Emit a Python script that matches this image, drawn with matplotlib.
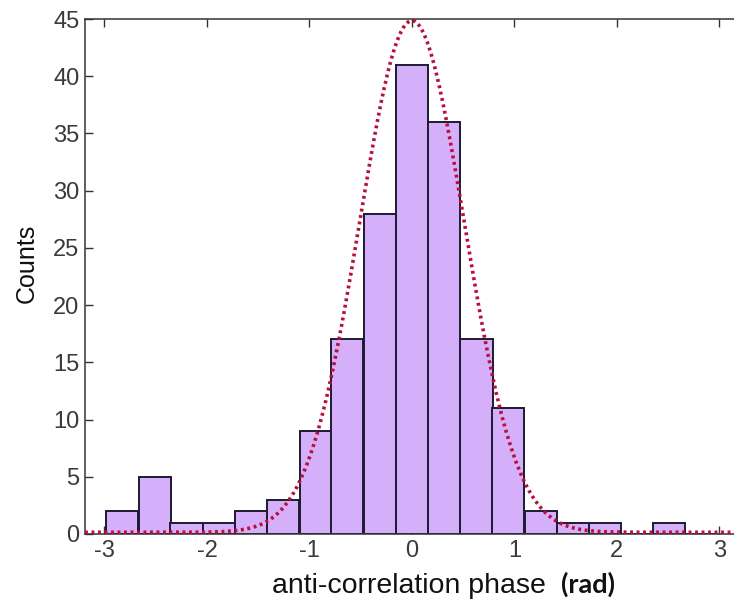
import numpy as np
import matplotlib
matplotlib.use('Agg')
import matplotlib.pyplot as plt

# histogram of anti-correlation phase (bins of pi/10)
bin_centers = [-2.83, -2.51, -2.20, -1.88, -1.57, -1.26, -0.94, -0.63, -0.31, 0.0,
               0.31, 0.63, 0.94, 1.26, 1.57, 1.88, 2.20, 2.51, 2.83]
counts = [2, 5, 1, 1, 2, 3, 9, 17, 28, 41, 36, 17, 11, 2, 1, 1, 0, 1, 0]

# gaussian fit
fit_peak = 44.7
fit_center = 0.0
fit_sigma = 0.51

plt.rcParams['font.family'] = ['Liberation Sans', 'DejaVu Sans']

fig = plt.figure(figsize=(7.34, 6.06), dpi=100)
# right spine sits just past the image edge, as in the reference
ax = fig.add_axes([85/734, 72/606, 658/734, 515/606])

ax.bar(bin_centers, counts, width=0.314, color='#d6affa', edgecolor='#1c1a33',
       linewidth=1.4, zorder=2)

xs = np.linspace(-3.19, 3.22, 600)
fit = fit_peak * np.exp(-(xs - fit_center)**2 / (2 * fit_sigma**2))
ax.plot(xs, fit + 0.15, color='#b8103a', linewidth=2.6, linestyle=(0, (0.8, 1.0)),
        zorder=3, clip_on=False)

ax.set_xlim(-3.19, 3.23)
ax.set_ylim(0, 45)
ax.set_xticks([-3, -2, -1, 0, 1, 2, 3])
ax.set_yticks(range(0, 50, 5))
ax.set_xticklabels(['-3', '-2', '-1', '0', '1', '2', '3'])
ax.tick_params(direction='in', length=6, width=1, color='#333333',
               labelsize=17, labelcolor='#3a3a3a', top=True, right=True, pad=4)
for s in ax.spines.values():
    s.set_color('#333333')
    s.set_linewidth(1.1)

fig.text(272/734, (606-593)/606, 'anti-correlation phase', fontsize=20.5,
         color='#111111', va='baseline', ha='left')
fig.text(561/734, (606-593)/606, '(rad)', fontsize=19.5, family=['Lato', 'DejaVu Sans'],
         fontweight='bold', color='#111111', va='baseline', ha='left')
fig.text(27/734, 1 - 263/606, 'Counts', fontsize=18, rotation=90,
         color='#111111', va='center', ha='center')

fig.savefig('out.png', dpi=100)
